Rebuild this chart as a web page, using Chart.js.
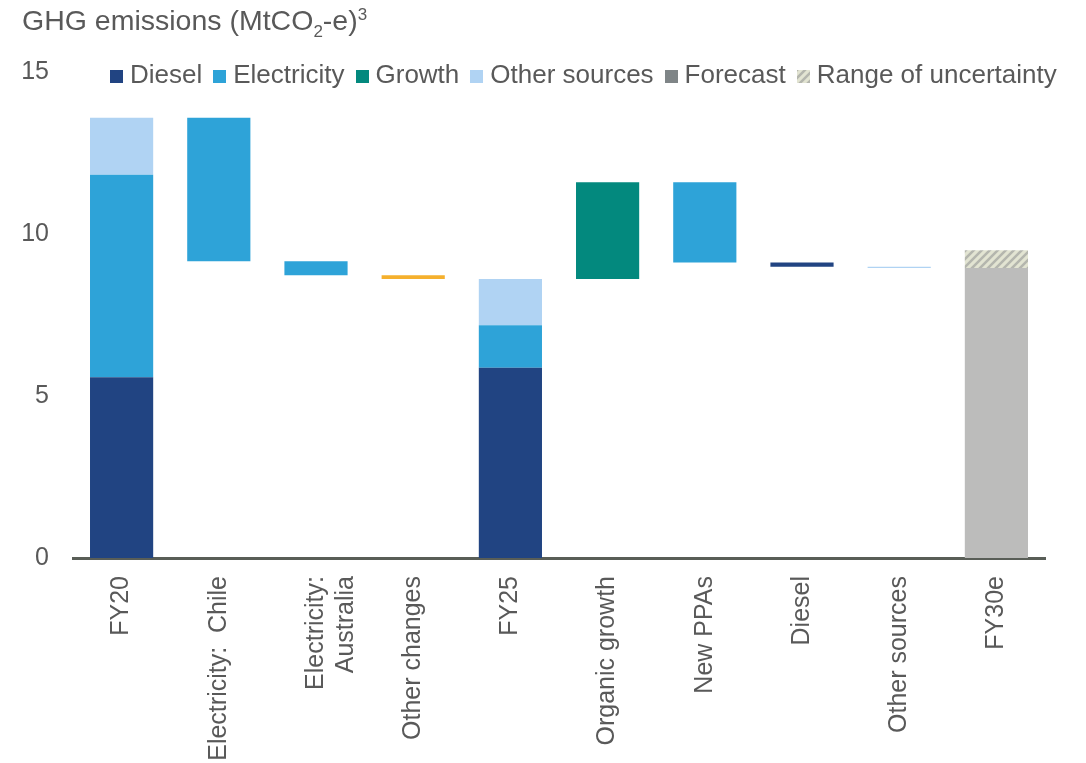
<!DOCTYPE html>
<html>
<head>
<meta charset="utf-8">
<script src="https://cdn.jsdelivr.net/npm/chart.js@4"></script>
<style>
  body { margin: 0; background: #fff; font-family: "Liberation Sans", Arial, sans-serif; color: #595959; }
  #wrap { position: relative; width: 1086px; height: 763px; overflow: hidden; }
  #title { position: absolute; left: 22px; top: 3px; font-size: 28.5px; white-space: nowrap; line-height: 34px; }
  #title sub, #title sup { font-size: 17px; line-height: 0; }
  #legend { position: absolute; left: 110px; top: 59px; display: flex; font-size: 26px; white-space: nowrap; }
  #legend .item { display: flex; align-items: center; margin-right: 11px; }
  #legend .sw { width: 13px; height: 13px; margin-right: 7px; margin-top: 3px; }
  canvas { position: absolute; left: 0; top: 0; }
</style>
</head>
<body>
<div id="wrap">
  <canvas id="c" width="1086" height="763"></canvas>
  <div id="title">GHG emissions (MtCO<sub>2</sub>-e)<sup>3</sup></div>
  <div id="legend"></div>
</div>
<script>
// Waterfall of GHG emissions, FY20 -> FY30e. Each value is a floating [low, high] range.
const categories = ['FY20', 'Electricity:  Chile', ['Electricity:', 'Australia'], 'Other changes', 'FY25',
  'Organic growth', 'New PPAs', 'Diesel', 'Other sources', 'FY30e'];
const yTicks = [0, 5, 10, 15];

const diesel       = [[0, 5.58], null, null, null, [0, 5.87], null, null, [8.99, 9.12], null, null];
const electricity  = [[5.58, 11.83], [9.16, 13.59], [8.73, 9.16], null, [5.87, 7.18], null, [9.12, 11.6], null, null, null];
const growth       = [null, null, null, null, null, [8.61, 11.6], null, null, null, null];
const otherSources = [[11.83, 13.59], null, null, null, [7.18, 8.61], null, null, null, [8.95, 8.99], null];
const otherChanges = [null, null, null, [8.61, 8.73], null, null, null, null, null, null];
const forecast     = [null, null, null, null, null, null, null, null, null, [0, 8.95]];
const uncertainty  = [null, null, null, null, null, null, null, null, null, [8.95, 9.5]];

const COLORS = {
  diesel: '#214482', electricity: '#2ea3d8', growth: '#03897e', other: '#b0d3f3',
  changes: '#f5b02d', forecast: '#bcbcbb', forecastKey: '#7f8587'
};

// Diagonal hatch for the range of uncertainty.
function hatch() {
  const p = document.createElement('canvas');
  p.width = 8; p.height = 8;
  const g = p.getContext('2d');
  g.fillStyle = '#e2e4d2';
  g.fillRect(0, 0, 8, 8);
  g.strokeStyle = '#b4b6ae';
  g.lineWidth = 2.5;
  g.beginPath();
  g.moveTo(-2, 10); g.lineTo(10, -2);
  g.moveTo(-2, 2); g.lineTo(2, -2);
  g.moveTo(6, 10); g.lineTo(10, 6);
  g.stroke();
  return p;
}
const hatchCanvas = hatch();
const hatchPattern = document.getElementById('c').getContext('2d').createPattern(hatchCanvas, 'repeat');

const ds = (label, data, color) => ({ label, data, backgroundColor: color, borderWidth: 0 });

new Chart(document.getElementById('c'), {
  type: 'bar',
  data: {
    labels: categories,
    datasets: [
      ds('Diesel', diesel, COLORS.diesel),
      ds('Electricity', electricity, COLORS.electricity),
      ds('Growth', growth, COLORS.growth),
      ds('Other sources', otherSources, COLORS.other),
      ds('Other changes', otherChanges, COLORS.changes),
      ds('Forecast', forecast, COLORS.forecast),
      ds('Range of uncertainty', uncertainty, hatchPattern)
    ]
  },
  options: {
    responsive: false,
    animation: false,
    grouped: false,
    categoryPercentage: 1,
    barPercentage: 0.65,
    layout: { padding: { left: 0, top: 72, right: 41, bottom: 0 } },
    plugins: { legend: { display: false }, tooltip: { enabled: false } },
    scales: {
      x: {
        grid: { display: false, drawTicks: false },
        border: { display: true, color: '#595e57', width: 3 },
        ticks: {
          color: '#595959', font: { family: '"Liberation Sans", Arial', size: 25 },
          minRotation: 90, maxRotation: 90, padding: 18, autoSkip: false
        },
        afterFit: s => { s.height = 205; }
      },
      y: {
        min: 0, max: 15,
        grid: { display: false, drawTicks: false },
        border: { display: false },
        afterBuildTicks: s => { s.ticks = yTicks.map(v => ({ value: v })); },
        ticks: { color: '#595959', font: { family: '"Liberation Sans", Arial', size: 25 }, padding: 24 },
        afterFit: s => { s.width = 73; }
      }
    }
  }
});

// Legend (the orange "other changes" bar has no key, as in the source).
const legendItems = [
  ['Diesel', COLORS.diesel], ['Electricity', COLORS.electricity], ['Growth', COLORS.growth],
  ['Other sources', COLORS.other], ['Forecast', COLORS.forecastKey], ['Range of uncertainty', null]
];
const legend = document.getElementById('legend');
legendItems.forEach(([name, color]) => {
  const item = document.createElement('div');
  item.className = 'item';
  const sw = document.createElement('span');
  sw.className = 'sw';
  if (color) sw.style.background = color;
  else sw.style.background = 'url(' + hatchCanvas.toDataURL() + ')';
  const txt = document.createElement('span');
  txt.textContent = name;
  item.appendChild(sw);
  item.appendChild(txt);
  legend.appendChild(item);
});
</script>
</body>
</html>
